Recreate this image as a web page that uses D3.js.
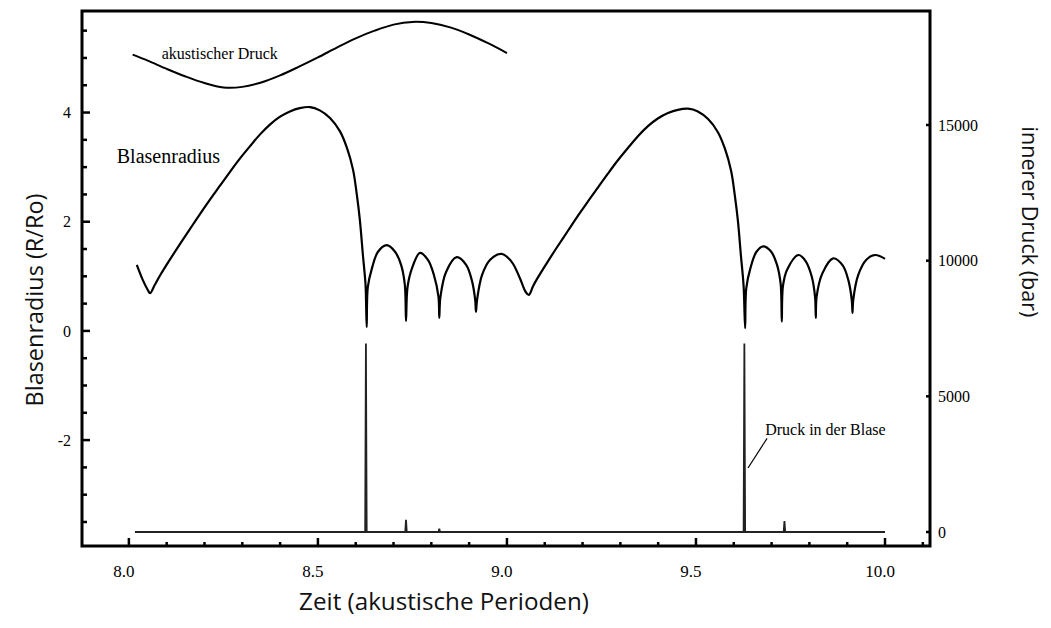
<!DOCTYPE html>
<html><head><meta charset="utf-8">
<script src="https://cdn.jsdelivr.net/npm/d3@7"></script>
<style>body{margin:0;background:#fff}svg{display:block}</style>
</head><body>
<svg id="c" width="1051" height="628"></svg>
<script>
// ---- data ----
const timeR = [8.021,8.037,8.050,8.056,8.069,8.082,8.108,8.135,8.161,8.188,8.214,8.241,8.267,8.294,8.320,8.347,8.373,8.399,8.426,8.452,8.479,8.505,8.532,8.558,8.577,8.593,8.603,8.611,8.619,8.626,8.629,8.632,8.643,8.659,8.682,8.704,8.720,8.730,8.733,8.737,8.749,8.770,8.791,8.807,8.819,8.821,8.824,8.839,8.867,8.892,8.907,8.916,8.918,8.921,8.934,8.955,8.986,9.013,9.034,9.050,9.058,9.069,9.082,9.108,9.135,9.161,9.188,9.214,9.241,9.267,9.294,9.320,9.347,9.373,9.399,9.426,9.452,9.479,9.505,9.532,9.558,9.577,9.593,9.603,9.611,9.619,9.626,9.630,9.633,9.644,9.660,9.678,9.698,9.714,9.724,9.727,9.730,9.741,9.771,9.790,9.806,9.815,9.817,9.819,9.834,9.863,9.888,9.903,9.912,9.914,9.916,9.929,9.950,9.974,10.0];
const radius = [1.21,0.93,0.75,0.69,0.85,1.01,1.30,1.59,1.86,2.14,2.40,2.66,2.91,3.16,3.38,3.60,3.78,3.92,4.02,4.08,4.10,4.04,3.90,3.66,3.35,2.95,2.49,2.03,1.39,0.84,0.07,0.80,1.15,1.45,1.57,1.45,1.21,0.84,0.18,0.80,1.15,1.43,1.30,1.02,0.62,0.24,0.62,1.08,1.35,1.21,0.93,0.57,0.35,0.57,1.02,1.30,1.41,1.26,0.97,0.71,0.66,0.82,0.98,1.27,1.56,1.83,2.11,2.37,2.63,2.88,3.13,3.35,3.57,3.75,3.89,3.99,4.05,4.07,4.02,3.88,3.64,3.33,2.93,2.47,2.01,1.37,0.82,0.05,0.78,1.15,1.45,1.55,1.46,1.22,0.86,0.17,0.82,1.12,1.39,1.28,1.00,0.62,0.24,0.62,1.05,1.33,1.20,0.93,0.57,0.33,0.57,1.02,1.30,1.39,1.32];

const timeP = [8.016,8.625,8.627,8.629,8.731,8.733,8.735,8.819,8.821,8.823,9.626,9.628,9.630,9.732,9.734,9.736,10.0];
const pressure = [0,0,6950,0,0,450,0,0,120,0,0,6950,0,0,400,0,0];

const timeA = [8.01,8.05,8.10,8.15,8.20,8.25,8.30,8.35,8.40,8.45,8.50,8.55,8.60,8.65,8.70,8.75,8.80,8.85,8.90,8.95,9.00];
const acoustic = [5.06,4.95,4.80,4.66,4.54,4.46,4.47,4.55,4.68,4.84,5.01,5.19,5.36,5.50,5.61,5.66,5.64,5.56,5.43,5.27,5.09];

const xMajor = [8.0,8.5,9.0,9.5,10.0];
const xLabels = ["8.0","8.5","9.0","9.5","10.0"];
const xMinor = [8.1,8.2,8.3,8.4,8.6,8.7,8.8,8.9,9.1,9.2,9.3,9.4,9.6,9.7,9.8,9.9,10.1];
const yMajor = [-2,0,2,4];
const yLabels = ["-2","0","2","4"];
const yMinor = [-3.5,-3,-2.5,-1.5,-1,-0.5,0.5,1,1.5,2.5,3,3.5,4.5,5,5.5];
const pMajor = [0,5000,10000,15000];
const pLabels = ["0","5000","10000","15000"];

// ---- layout ----
const svg = d3.select("#c");
const L = 82, R = 930, T = 11, B = 546;
const x = d3.scaleLinear().domain([7.876, 10.119]).range([L, R]);
const yR = d3.scaleLinear().domain([-3.94, 5.86]).range([B, T]);
const yP = d3.scaleLinear().domain([0, 15000]).range([532, 125]);

const serif = "Liberation Serif, serif";
const sans = "Open Sans, Lato, sans-serif";

const lineR = d3.line().x((d,i)=>x(timeR[i])).y(d=>yR(d)).curve(d3.curveCatmullRom.alpha(0.5));
const lineA = d3.line().x((d,i)=>x(timeA[i])).y(d=>yR(d)).curve(d3.curveCatmullRom.alpha(0.5));
const lineP = d3.line().x((d,i)=>x(timeP[i])).y(d=>yP(d));

svg.append("path").attr("d", lineP(pressure)).attr("fill","none").attr("stroke","#222").attr("stroke-width",1.8);
svg.append("path").attr("d", lineR(radius)).attr("fill","none").attr("stroke","#000").attr("stroke-width",2.2).attr("stroke-linejoin","round");
svg.append("path").attr("d", lineA(acoustic)).attr("fill","none").attr("stroke","#000").attr("stroke-width",2).attr("stroke-linejoin","round");

// frame
svg.append("rect").attr("x",L).attr("y",T).attr("width",R-L).attr("height",B-T)
  .attr("stroke","#000").attr("stroke-width",3).attr("fill","none");

// ticks (inward)
const tk = svg.append("g").attr("stroke","#000").attr("stroke-width",2.5);
yMajor.forEach(v=>tk.append("line").attr("x1",L).attr("x2",L+8).attr("y1",yR(v)).attr("y2",yR(v)));
yMinor.forEach(v=>tk.append("line").attr("x1",L).attr("x2",L+5).attr("y1",yR(v)).attr("y2",yR(v)));
xMajor.forEach(v=>tk.append("line").attr("x1",x(v)).attr("x2",x(v)).attr("y1",B).attr("y2",B-8));
xMinor.forEach(v=>tk.append("line").attr("x1",x(v)).attr("x2",x(v)).attr("y1",B).attr("y2",B-4));
pMajor.forEach(v=>tk.append("line").attr("x1",R).attr("x2",R-4).attr("y1",yP(v)).attr("y2",yP(v)));

// tick labels
yMajor.forEach((v,i)=>svg.append("text").attr("x",L-11).attr("y",yR(v)).attr("dy","0.35em")
  .attr("text-anchor","end").attr("font-family",serif).attr("font-size",16).text(yLabels[i]));
xMajor.forEach((v,i)=>svg.append("text").attr("x",x(v)-5).attr("y",577)
  .attr("text-anchor","middle").attr("font-family",serif).attr("font-size",17).text(xLabels[i]));
pMajor.forEach((v,i)=>svg.append("text").attr("x",R+8).attr("y",yP(v)).attr("dy","0.35em")
  .attr("text-anchor","start").attr("font-family",serif).attr("font-size",16).text(pLabels[i]));

// axis titles, scaled to the reference widths
function fit(sel, w){ const cur = sel.node().getComputedTextLength(); sel.attr("font-size", (+sel.attr("font-size"))*w/cur); }
const tX = svg.append("text").attr("x",444).attr("y",610).attr("text-anchor","middle").attr("font-family",sans).attr("font-size",20).attr("fill","#111").text("Zeit (akustische Perioden)");
fit(tX, 290);
const tL = svg.append("text").attr("transform","translate(43,300) rotate(-90)").attr("text-anchor","middle").attr("font-family",sans).attr("font-size",20).attr("fill","#111").text("Blasenradius (R/Ro)");
fit(tL, 213);
const tR = svg.append("text").attr("transform","translate(1022,222) rotate(90)").attr("text-anchor","middle").attr("font-family",sans).attr("font-size",20).attr("fill","#111").text("innerer Druck (bar)");
fit(tR, 191);

// annotations (in data units)
svg.append("text").attr("x",x(8.087)).attr("y",yR(4.98)).attr("font-family",serif).attr("font-size",16).text("akustischer Druck");
svg.append("text").attr("x",x(7.968)).attr("y",yR(3.08)).attr("font-family",serif).attr("font-size",20).text("Blasenradius");
svg.append("text").attr("x",x(9.683)).attr("y",yP(3560)).attr("font-family",serif).attr("font-size",16).text("Druck in der Blase");
svg.append("line").attr("x1",x(9.688)).attr("y1",yP(3450)).attr("x2",x(9.6376)).attr("y2",yP(2360)).attr("stroke","#000").attr("stroke-width",1.2);
</script>
</body></html>
